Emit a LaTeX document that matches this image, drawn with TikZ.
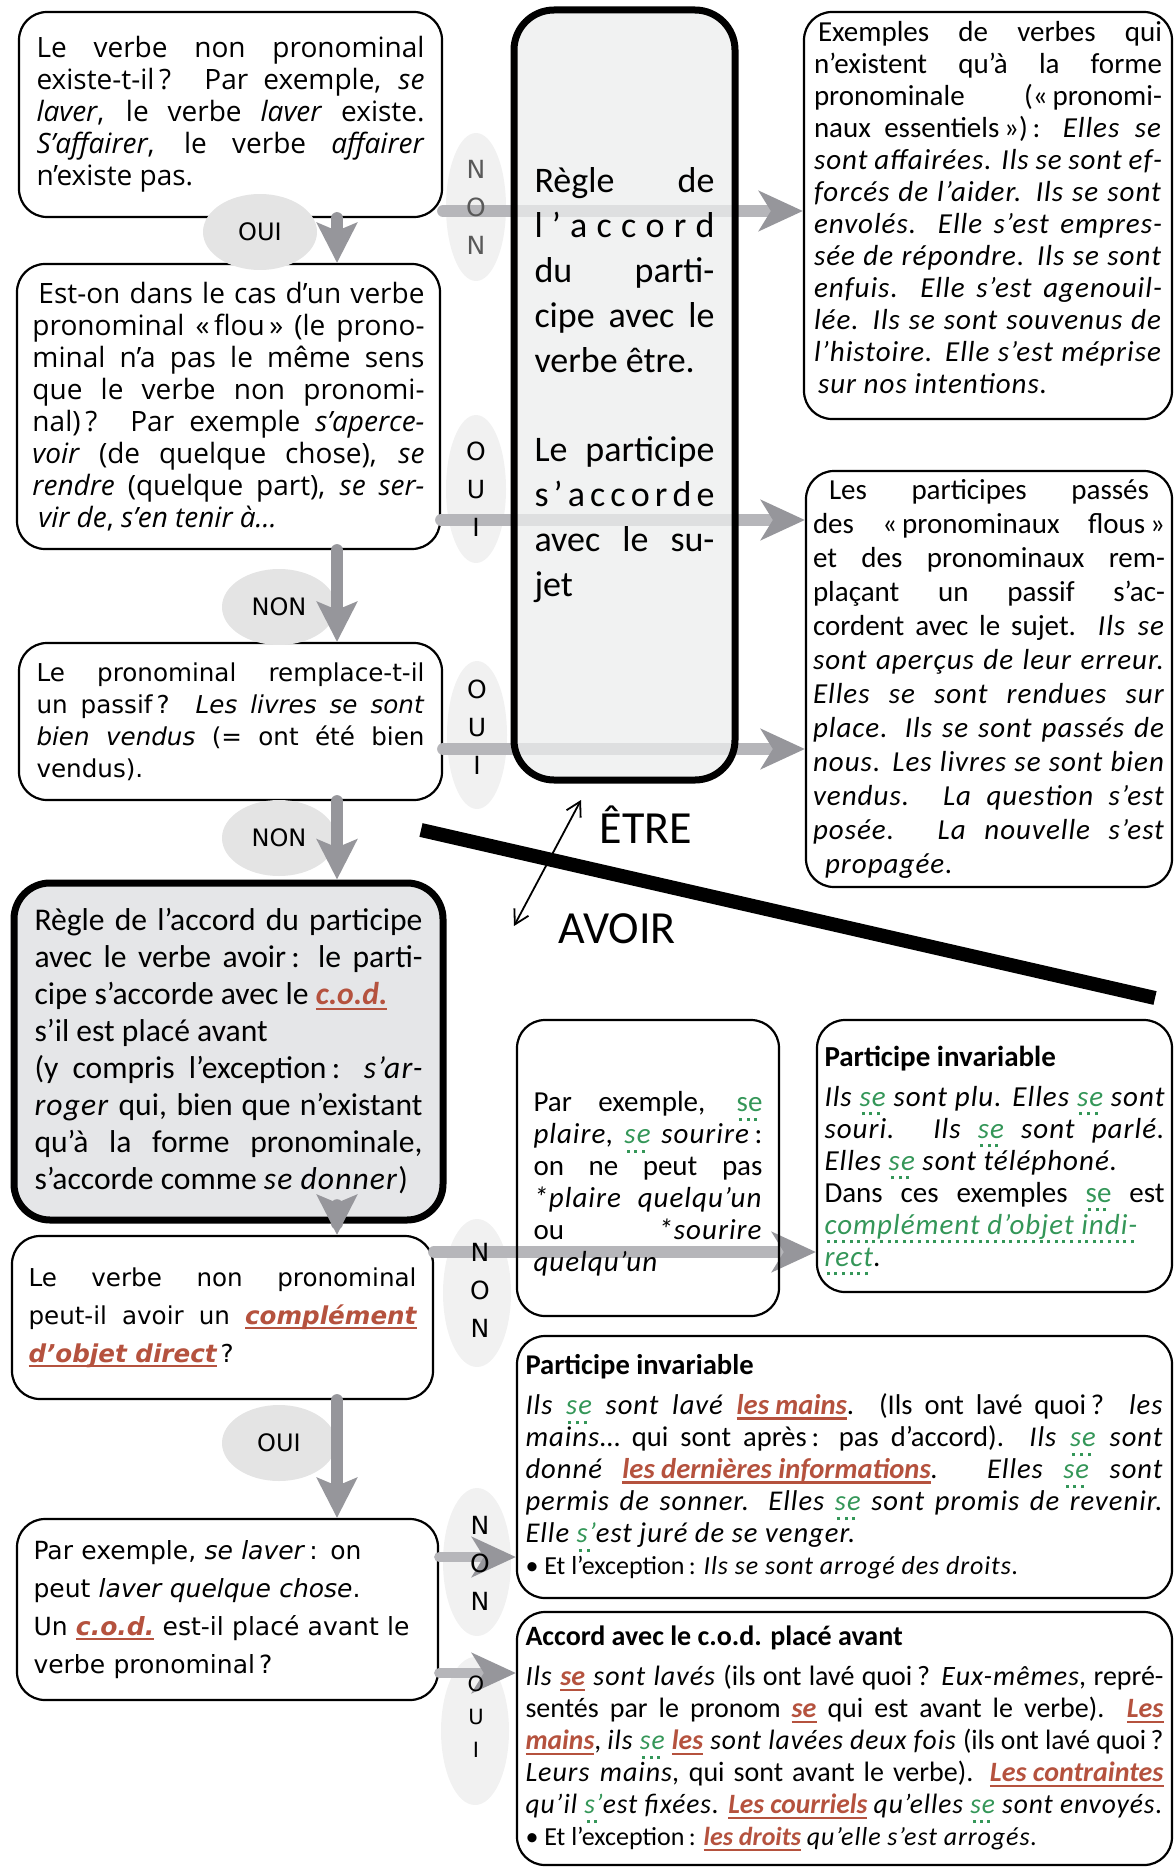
\documentclass[tikz,border=0pt]{standalone}
\usepackage{fontspec}
\setmainfont{Carlito}[ItalicFeatures={LetterSpace=3.5}]
\newfontfamily\opensans{Open Sans}
\newfontfamily\dejavu{DejaVu Sans}
\usetikzlibrary{arrows.meta,shapes.geometric}
\definecolor{codred}{RGB}{181,82,62}
\definecolor{segreen}{RGB}{52,150,88}
\definecolor{arrgray}{RGB}{150,150,155}
\definecolor{linegray}{RGB}{182,182,186}
\definecolor{lblgray}{RGB}{228,228,228}
\definecolor{palegray}{RGB}{241,241,241}
\definecolor{boxgray}{RGB}{229,230,232}
\definecolor{colgray}{RGB}{236,238,237}
% underlined c.o.d. (solid) and dotted green "se"
\newcommand\codr[1]{{\bfseries\itshape\color{codred}\setbox0=\hbox{#1}\rlap{\rule[-2.4pt]{\wd0}{1.1pt}}\box0}}
\newcommand\segr[1]{{\color{segreen}\setbox0=\hbox{#1}\rlap{\raisebox{-4.6pt}[0pt][0pt]{\hbox to \wd0{\leaders\hbox to 3.8pt{\hss\rule{1.5pt}{1.5pt}\hss}\hfil}}}\box0}}

\begin{document}
\begin{tikzpicture}[x=0.5pt,y=-0.5pt,
  qbox/.style={draw, rounded corners=14pt, line width=1.1pt, inner sep=0pt, align=justify},
  rbox/.style={qbox, font=\fontsize{14.5}{16}\selectfont},
  bigbox/.style={draw, rounded corners=18pt, line width=3.5pt, inner sep=0pt, align=justify},
  oval/.style={ellipse, fill=lblgray, minimum width=57pt, minimum height=38pt, inner sep=0pt, font=\dejavu\fontsize{12}{14}\selectfont},
  vbg/.style={ellipse, fill=palegray, minimum width=30pt, minimum height=74pt, inner sep=0pt},
  vtxt/.style={align=center, inner sep=0pt, font=\dejavu\fontsize{12.5}{19}\selectfont},
  vflow/.style={draw=arrgray, line width=6pt, line cap=round, -{Stealth[length=20pt,width=20pt,inset=4pt,color=arrgray]}},
  hflow/.style={draw=linegray, line width=6pt, line cap=round, -{Stealth[length=22pt,width=20pt,inset=6pt,color=arrgray]}}]
\useasboundingbox (0,0) rectangle (1175,1867);

% questions, left column
\node[qbox, font=\opensans\fontsize{14}{16}\selectfont, text width=194pt, minimum width=211.5pt, minimum height=102.5pt] (q1) at (230.5,114.5)
  {Le verbe non pronominal\linebreak existe-t-il\,? Par exemple, \textit{se}\linebreak \textit{laver}, le verbe \textit{laver} existe.\linebreak \textit{S’affairer}, le verbe \textit{affairer}\linebreak n’existe pas.};
\node[qbox, font=\opensans\fontsize{14}{16}\selectfont, text width=196pt, minimum width=211.5pt, minimum height=142.5pt] (q2) at (228.5,406.5)
  {\hspace*{3pt}Est-on dans le cas d’un verbe\linebreak pronominal «\,flou\,» (le prono-\linebreak minal n’a pas le même sens\linebreak que le verbe non pronomi-\linebreak nal)\,? Par exemple \textit{s’aperce-}\linebreak \textit{voir} (de quelque chose), \textit{se}\linebreak \textit{rendre} (quelque part), \textit{se ser-}\linebreak \hspace*{3pt}\textit{vir de}, \textit{s’en tenir à…}};
\node[qbox, font=\dejavu\fontsize{12.3}{16}\selectfont, text width=194pt, minimum width=211.5pt, minimum height=78.5pt] (q3) at (230.5,721.5)
  {Le pronominal remplace-t-il\linebreak un passif\,? \textit{Les livres se sont}\linebreak \textit{bien vendus} (= ont été bien\linebreak vendus).};
\node[bigbox, fill=boxgray, font=\fontsize{15.8}{18.5}\selectfont, text width=194pt, minimum width=214.5pt, minimum height=168.5pt] (q4) at (228.5,1051.5)
  {Règle de l’accord du participe\linebreak avec le verbe avoir\,: le parti-\linebreak cipe s’accorde avec le \codr{c.o.d.}\\ s’il est placé avant\\ (y compris l’exception\,: \textit{s’ar-}\linebreak \textit{roger} qui, bien que n’existant\linebreak qu’à la forme pronominale,\linebreak s’accorde comme \textit{se donner})};
\node[qbox, font=\dejavu\fontsize{12.3}{19}\selectfont, text width=194pt, minimum width=210.5pt, minimum height=81.5pt] (q5) at (222.5,1317.5)
  {Le verbe non pronominal\linebreak peut-il avoir un \codr{complément}\linebreak \codr{d’objet direct}\,?};
\node[qbox, align=left, font=\dejavu\fontsize{12.5}{19}\selectfont, text width=194pt, minimum width=210.5pt, minimum height=90.5pt] (q6) at (227.5,1609.5)
  {Par exemple, \textit{se laver}\,: on\\ peut \textit{laver quelque chose}.\\ Un \codr{c.o.d.} est-il placé avant le\\ verbe pronominal\,?};

% results, right column
\node[rbox, text width=174pt, minimum width=184pt, minimum height=203.5pt] (r1) at (988,215.5)
  {\hspace*{2pt}Exemples de verbes qui\linebreak n’existent qu’à la forme\linebreak pronominale («\,pronomi-\linebreak naux essentiels\,»)\,: \textit{Elles se}\linebreak \textit{sont affairées. Ils se sont ef-}\linebreak \textit{forcés de l’aider. Ils se sont}\linebreak \textit{envolés. Elle s’est empres-}\linebreak \textit{sée de répondre. Ils se sont}\linebreak \textit{enfuis. Elle s’est agenouil-}\linebreak \textit{lée. Ils se sont souvenus de}\linebreak \textit{l’histoire. Elle s’est méprise}\linebreak \hspace*{2pt}\textit{sur nos intentions.}\rule[-8pt]{0pt}{0pt}};
\node[rbox, font=\fontsize{14.5}{17}\selectfont, text width=176pt, minimum width=183pt, minimum height=208pt] (r2) at (989,679)
  {\hspace*{8pt}Les participes passés\hspace*{8pt}\linebreak des «\,pronominaux flous\,»\linebreak et des pronominaux rem-\linebreak plaçant un passif s’ac-\linebreak cordent avec le sujet. \textit{Ils se}\linebreak \textit{sont aperçus de leur erreur.}\linebreak \textit{Elles se sont rendues sur}\linebreak \textit{place. Ils se sont passés de}\linebreak \textit{nous. Les livres se sont bien}\linebreak \textit{vendus. La question s’est}\linebreak \textit{posée. La nouvelle s’est}\linebreak \hspace*{6pt}\textit{propagée.}};
\node[rbox, text width=170pt, minimum width=177.5pt, minimum height=136pt] (r4) at (994.5,1156)
  {\textbf{Participe invariable}\\[4pt] \itshape Ils \segr{se} sont plu. Elles \segr{se} sont\linebreak souri. Ils \segr{se} sont parlé.\linebreak Elles \segr{se} sont téléphoné.\\ \upshape Dans ces exemples \segr{se} est\linebreak {\itshape\segr{complément d’objet indi-}}\linebreak {\itshape\segr{rect}}.};
\node[rbox, font=\fontsize{14.3}{16}\selectfont, text width=319pt, minimum width=327.5pt, minimum height=131pt] (r5) at (844.5,1467)
  {\textbf{Participe invariable}\\[4pt] \textit{Ils \segr{se} sont lavé \codr{les mains}}. (Ils ont lavé quoi\,? \textit{les}\linebreak \textit{mains}… qui sont après\,: pas d’accord). \textit{Ils \segr{se} sont}\linebreak \textit{donné \codr{les dernières informations}. Elles \segr{se} sont}\linebreak \textit{permis de sonner. Elles \segr{se} sont promis de revenir.}\linebreak \textit{Elle \segr{s’}est juré de se venger.}\\ {\fontsize{13}{16}\selectfont • Et l’exception\,: \textit{Ils se sont arrogé des droits.}}};
\node[rbox, font=\fontsize{14}{16}\selectfont, text width=319pt, minimum width=327.5pt, minimum height=126.5pt] (r6) at (844.5,1738.5)
  {\textbf{Accord avec le c.o.d. placé avant}\\[4pt] \textit{Ils \codr{se} sont lavés} (ils ont lavé quoi\,? \textit{Eux-mêmes}, repré-\linebreak sentés par le pronom \codr{se} qui est avant le verbe). \codr{Les}\linebreak \resizebox{\linewidth}{\height}{\codr{mains}, \textit{ils \segr{se} \codr{les} sont lavées deux fois} (ils ont lavé quoi\,?}\linebreak \textit{Leurs mains}, qui sont avant le verbe). \codr{Les contraintes}\linebreak \resizebox{\linewidth}{\height}{\textit{qu’il \segr{s’}est fixées.} \codr{Les courriels} \textit{qu’elles \segr{se} sont envoyés.}}\linebreak {\fontsize{13}{16}\selectfont • Et l’exception\,: \codr{les droits} \textit{qu’elle s’est arrogés.}}};

% OUI / NON
\node[oval] (o1) at (260,232) {OUI};
\node[oval] (o2) at (279,607) {NON};
\node[oval] (o3) at (279,838) {NON};
\node[oval] (o4) at (279,1443) {OUI};
\node[vbg] (v1) at (476,207) {};
\node[vbg] (v2) at (476,489) {};
\node[vbg] (v3) at (477,735) {};
\node[vbg, minimum width=34pt] (v4) at (477,1293) {};
\node[vbg, minimum width=34pt] (v5) at (477,1562) {};
\node[vbg, minimum width=34pt] (v6) at (475,1731) {};

\draw[hflow] (q1.east |- 0,211) -- (r1.west |- 0,211);
\draw[hflow] (q2.east |- 0,520) -- (r2.west |- 0,520);
\draw[hflow] (q3.east |- 0,749) -- (r2.west |- 0,749);
\draw[hflow] (q5.east |- 0,1252) -- (r4.west |- 0,1252);
\draw[hflow, line width=5pt] (q6.east |- 0,1557) -- (r5.west |- 0,1557);
\draw[hflow, line width=5pt] (q6.east |- 0,1673) -- (r6.west |- 0,1673);

\node[bigbox, rounded corners=20pt, fill=colgray, fill opacity=.75, text opacity=1, font=\fontsize{18}{22.4}\selectfont, text width=90pt, minimum width=110.5pt, minimum height=385pt] (g) at (624.5,395)
  {Règle\hfill de\\ l\hfill ’\hfill a\hfill c\hfill c\hfill o\hfill r\hfill d\\ du\hfill parti-\\ cipe avec le\linebreak verbe être.\\[22.4pt] Le participe\linebreak s\hfill ’\hfill a\hfill c\hfill c\hfill o\hfill r\hfill d\hfill e\\ avec le su-\linebreak jet\rule[-13pt]{0pt}{0pt}};
\node[rbox, draw, text width=114.5pt, minimum width=131pt, minimum height=148pt] (r3) at (648,1168)
  {\rule{0pt}{26pt}Par exemple, \segr{se}\linebreak \textit{plaire}, {\itshape\segr{se}} \textit{sourire}\,:\linebreak on ne peut pas\linebreak \textit{*plaire quelqu’un}\linebreak ou \textit{*sourire}\linebreak \textit{quelqu’un}};

\node[vtxt, text=black!65] (n1) at (476,207) {N\\O\\N};
\node[vtxt] (n2) at (476,489) {O\\U\\I};
\node[vtxt] (n3) at (477,727) {O\\U\\I};
\node[vtxt] (n4) at (480,1290) {N\\O\\N};
\node[vtxt] (n5) at (480,1563) {N\\O\\N};
\node[vtxt, font=\dejavu\fontsize{10.5}{16.5}\selectfont] (n6) at (476,1717) {O\\U\\I};

\draw[vflow] (q1.south -| 337,0) -- (q2.north -| 337,0);
\draw[vflow] (q2.south -| 337,0) -- (q3.north -| 337,0);
\draw[vflow] (q3.south -| 337,0) -- (q4.north -| 337,0);
\draw[vflow] (q4.south -| 337,0) -- (q5.north -| 337,0);
\draw[vflow] (q5.south -| 337,0) -- (q6.north -| 337,0);

% etre / avoir
\coordinate (bar1) at (421,830);
\coordinate (bar2) at (1155,998);
\draw[line width=7pt] (bar1) -- (bar2);
\coordinate (etre) at (581,800);
\coordinate (avoir) at (514,926);
\draw[line width=0.9pt, {Straight Barb[length=7pt,width=8pt]}-{Straight Barb[length=7pt,width=8pt]}] (etre) -- (avoir);
\node[font=\fontsize{23}{26}\selectfont] (etre-lbl) at (646,825) {ÊTRE};
\node[font=\fontsize{23}{26}\selectfont] (avoir-lbl) at (617,929) {AVOIR};
\end{tikzpicture}
\end{document}
